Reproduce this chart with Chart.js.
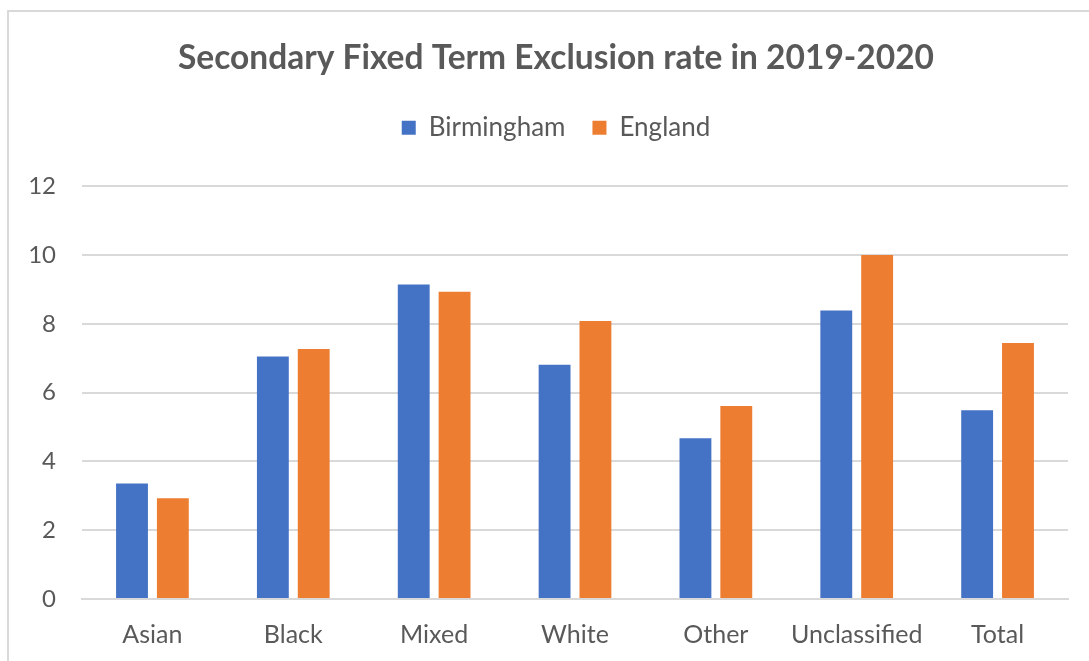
<!DOCTYPE html>
<html>
<head>
<meta charset="utf-8">
<title>Secondary Fixed Term Exclusion rate</title>
<script src="https://cdn.jsdelivr.net/npm/chart.js@4.4.1/dist/chart.umd.min.js"></script>
<style>
  html, body { margin:0; padding:0; background:#fff; overflow:hidden; }
  .frame { position:absolute; left:7px; top:10px; width:1100px; height:680px; border:2px solid #d9d9d9; box-sizing:border-box; }
  .wrap { position:absolute; left:0; top:0; width:1089px; height:661px; }
</style>
</head>
<body>
<div class="frame"></div>
<div class="wrap"><canvas id="chart" width="1089" height="661"></canvas></div>
<script>
// exclusion rates by ethnic group, 2019-2020
const groups = ['Asian','Black','Mixed','White','Other','Unclassified','Total'];
const birmingham = [3.36, 7.05, 9.14, 6.81, 4.67, 8.39, 5.49];
const england = [2.93, 7.27, 8.93, 8.08, 5.61, 10.0, 7.44];
const yTicks = [0, 2, 4, 6, 8, 10, 12];

const FONT = 'Lato, Calibri, sans-serif';
const GREY = '#595959';

// extra room under the legend before the plot starts
const legendGap = {
  id: 'legendGap',
  beforeInit(chart){
    const fit = chart.legend.fit;
    chart.legend.fit = function(){
      fit.call(this);
      this.height += 35.5;
    };
  }
};

// title + legend sit centred on the framed box, a bit right of the canvas centre
const headerShift = {
  id: 'headerShift',
  afterLayout(chart){
    for(const box of [chart.titleBlock, chart.legend]){
      box.left += 22;
      box.right += 22;
    }
  }
};

(function(){
  const ctx = document.getElementById('chart');
  new Chart(ctx, {
    type: 'bar',
    data: {
      labels: groups,
      datasets: [
        { label:'Birmingham', data: birmingham, backgroundColor:'#4472c4' },
        { label:'England', data: england, backgroundColor:'#ed7d31' }
      ]
    },
    plugins: [legendGap, headerShift],
    options: {
      responsive: false,
      animation: false,
      categoryPercentage: 0.58,
      barPercentage: 0.78,
      layout: { padding: { left: 0, right: 21, top: 0, bottom: 0 } },
      plugins: {
        tooltip: { enabled: false },
        title: {
          display: true,
          text: 'Secondary Fixed Term Exclusion rate in 2019-2020',
          color: GREY,
          font: { family: FONT, size: 33.5, weight: 'bold' },
          padding: { top: 38, bottom: 9.5 }
        },
        legend: {
          display: true,
          position: 'top',
          labels: {
            color: GREY,
            font: { family: FONT, size: 26 },
            boxWidth: 14,
            boxHeight: 14,
            padding: 27
          }
        }
      },
      scales: {
        x: {
          afterFit: s => { s.height = 62; },
          grid: { display: false, drawTicks: false },
          border: { display: true, color: '#d9d9d9', width: 2 },
          ticks: { color: GREY, font: { family: FONT, size: 25 }, padding: 21 }
        },
        y: {
          min: 0,
          max: 12,
          afterBuildTicks: s => { s.ticks = yTicks.map(v => ({ value: v })); },
          afterFit: s => { s.width = 82; },
          grid: { color: '#d9d9d9', lineWidth: 2, drawTicks: false },
          border: { display: false },
          ticks: { color: GREY, font: { family: FONT, size: 24 }, padding: 26 }
        }
      }
    }
  });
})();
</script>
</body>
</html>
